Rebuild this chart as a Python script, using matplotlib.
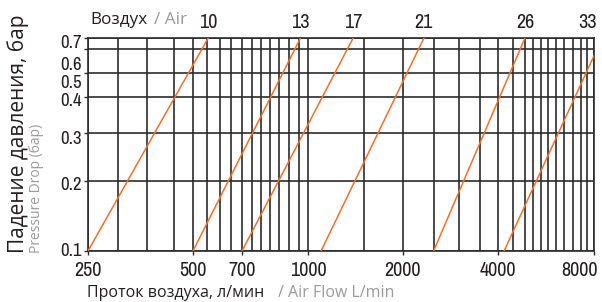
import numpy as np
import matplotlib.pyplot as plt
from matplotlib import font_manager
from matplotlib.transforms import ScaledTranslation

# размеры фильтров (подписи линий) и точки линий
sizes = ['10', '13', '17', '21', '26', '33']
flow_start = [250, 500, 700, 1100, 2500, 4180]      # л/мин при 0.1 бар
flow_end = [555, 960, 1390, 2330, 4860, 8000]       # л/мин в верхней точке
dp_start = [0.1, 0.1, 0.1, 0.1, 0.1, 0.1]
dp_end = [0.7, 0.7, 0.7, 0.7, 0.7, 0.57]

# шкалы
x_ticks = [250, 500, 700, 1000, 2000, 4000, 8000]
x_grid = [305, 370, 440, 550, 600, 650, 740, 775, 815, 855, 900, 950,
          1500, 2500, 3000, 3500, 4450, 4850, 5150, 5450, 5750, 6100,
          6450, 6850, 7300, 7600]
y_ticks = [0.1, 0.2, 0.3, 0.4, 0.5, 0.6, 0.7]

# неравномерная логарифмическая сетка как в оригинале
x_anchor_pos = [0, 105, 154, 220, 315, 410, 506]
y_anchor_pos = [0, 70, 118, 154, 178, 202, 213]
# сдвиг подписей оси Y вниз, px
y_label_shift = [-2, 2, 4, 3, 9, 14, 4]


def piecewise_log(vals, pos):
    lv = np.log10(vals)
    p = np.asarray(pos, float)

    def fwd(v):
        v = np.log10(np.clip(np.asarray(v, float), 1e-12, None))
        return np.interp(v, lv, p)

    def inv(v):
        return 10 ** np.interp(np.asarray(v, float), p, lv)
    return fwd, inv


def narrow_font():
    # узкий шрифт, если есть
    for f in font_manager.fontManager.ttflist:
        if ('Narrow' in f.name or 'Condensed' in f.name) and f.style == 'normal':
            return f.name, f.stretch
    for f in font_manager.fontManager.ttflist:
        if f.stretch in ('condensed', 'semi-condensed') and f.style == 'normal':
            return f.name, f.stretch
    return 'Liberation Sans', 'normal'


BLACK = '#231f20'
GRAY = '#9a9a9a'
GRID = '#2b2b2b'
ORANGE = '#f26f2c'
nf_name, nf_stretch = narrow_font()
NARROW = [nf_name, 'DejaVu Sans']
SANS = ['Open Sans', 'DejaVu Sans']
TICK_FS = 14.5

fig = plt.figure(figsize=(6.02, 3.02), dpi=100)
ax = fig.add_axes([88 / 602, 1 - 251 / 302, 506 / 602, 213 / 302])

ax.set_xscale('function', functions=piecewise_log(x_ticks, x_anchor_pos))
ax.set_yscale('function', functions=piecewise_log(y_ticks, y_anchor_pos))
ax.set_xlim(x_ticks[0], x_ticks[-1])
ax.set_ylim(y_ticks[0], y_ticks[-1])

ax.set_xticks(x_ticks)
ax.set_xticklabels([str(v) for v in x_ticks])
ax.set_xticks(x_grid, minor=True)
ax.set_yticks(y_ticks)
ax.set_yticklabels([str(v) for v in y_ticks])
ax.set_yticks([], minor=True)

ax.grid(True, which='both', color=GRID, lw=1.2)
ax.tick_params(which='minor', length=0)
ax.tick_params(axis='x', which='major', length=3, width=1, color=GRID, pad=4,
               labelsize=TICK_FS, labelcolor=BLACK)
ax.tick_params(axis='y', which='major', length=3, width=1, color=GRID, pad=1.5,
               labelsize=13.5, labelcolor=BLACK)
for lab in ax.get_xticklabels() + ax.get_yticklabels():
    lab.set_family(NARROW)
    lab.set_stretch(nf_stretch)
for lab, d in zip(ax.get_yticklabels(), y_label_shift):
    lab.set_transform(lab.get_transform() + ScaledTranslation(0, -d / 100, fig.dpi_scale_trans))
last = ax.get_xticklabels()[-1]
last.set_horizontalalignment('right')
last.set_transform(last.get_transform() + ScaledTranslation(4 / 100, 0, fig.dpi_scale_trans))

for s in ax.spines.values():
    s.set_color(GRID)
    s.set_linewidth(1.2)

for name, x0, x1, y0, y1 in zip(sizes, flow_start, flow_end, dp_start, dp_end):
    ax.plot([x0, x1], [y0, y1], color=ORANGE, lw=1.1, clip_on=True, zorder=3)
    ha = 'right' if x1 >= x_ticks[-1] else 'center'
    ax.annotate(name, (x1, y_ticks[-1]), xytext=(2 if ha == 'right' else 0, 4),
                textcoords='offset points', ha=ha, va='bottom',
                fontsize=TICK_FS, family=NARROW, stretch=nf_stretch, color=BLACK)

# заголовок и подписи осей
fig.text(90 / 602, 1 - 20 / 302, 'Воздух', ha='left', va='center',
         fontsize=12.3, family=SANS, color=BLACK)
fig.text(154 / 602, 1 - 20 / 302, '/ Air', ha='left', va='center',
         fontsize=12.3, family=SANS, color=GRAY)

fig.text(18 / 602, 1 - 253 / 302, 'Падение давления, бар', rotation=90,
         ha='center', va='bottom', fontsize=15, family=SANS, color=BLACK)
fig.text(37 / 602, 1 - 253 / 302, 'Pressure Drop (бар)', rotation=90,
         ha='center', va='bottom', fontsize=10, family=SANS, color=GRAY)

fig.text(87 / 602, 1 - 297 / 302, 'Проток воздуха, л/мин', ha='left',
         va='baseline', fontsize=11.5, family=SANS, color=BLACK)
fig.text(278 / 602, 1 - 297 / 302, '/ Air Flow L/min', ha='left',
         va='baseline', fontsize=11.5, family=SANS, color=GRAY)

fig.savefig('out.png', dpi=100)
